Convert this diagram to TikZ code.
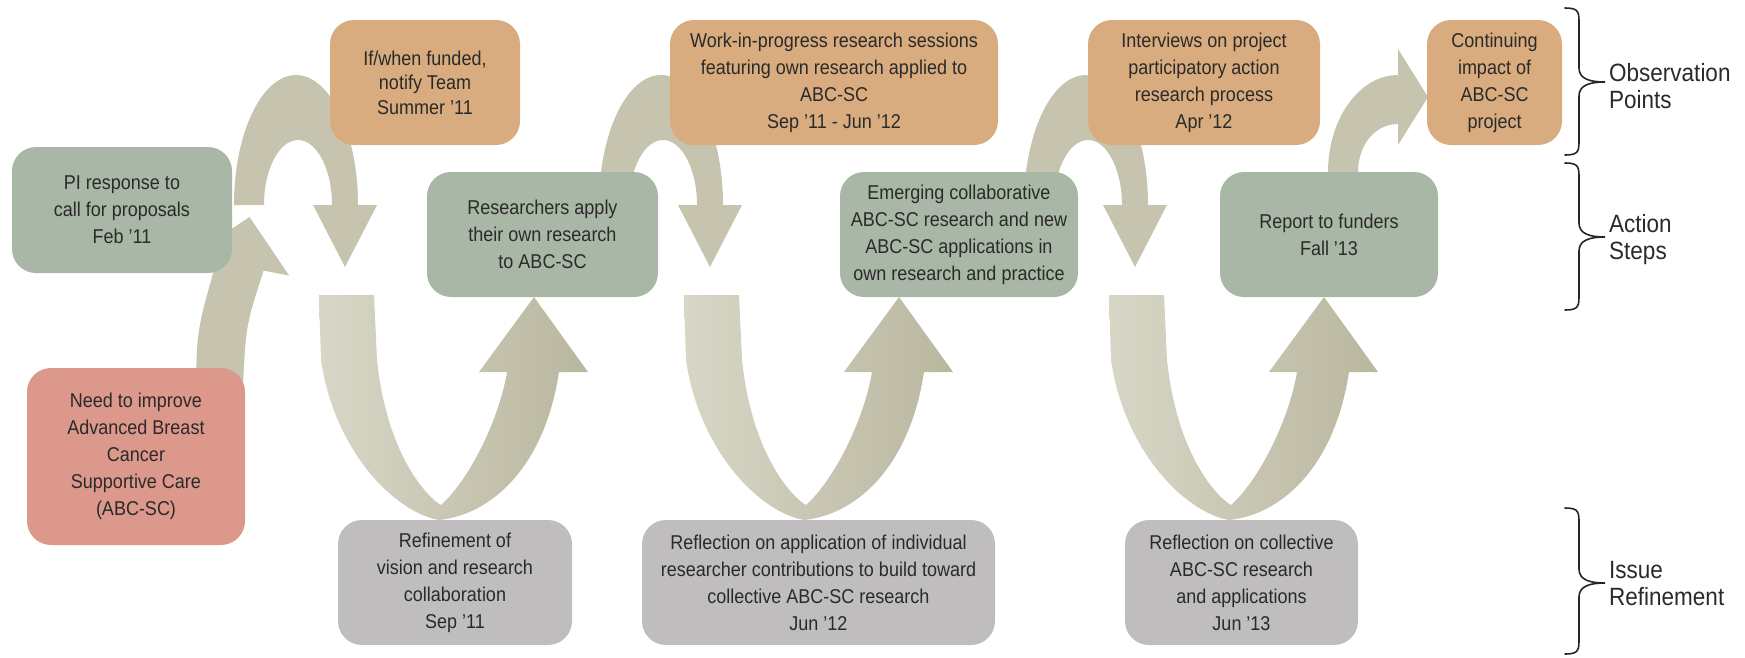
\documentclass[tikz,border=0pt]{standalone}
\usepackage{fontspec}
\setmainfont{Liberation Sans}[FakeStretch=0.9]
\newcommand\boxfont{\fontsize{20}{27}\selectfont}
\newcommand\tightfont{\fontsize{20}{24.5}\selectfont}
\newcommand\labfont{\fontsize{25}{27}\selectfont}
\definecolor{obsc}{HTML}{D8AC7E}
\definecolor{actc}{HTML}{A9B8A6}
\definecolor{needc}{HTML}{DC988A}
\definecolor{refc}{HTML}{C0BDBE}
\definecolor{arrc}{HTML}{C6C4AE}
\definecolor{ulight}{HTML}{D8D6C6}
\definecolor{udark}{HTML}{B9B79F}
\definecolor{txtc}{HTML}{2A2A2A}
\tikzset{
  bx/.style={rounded corners=24pt, inner sep=0pt, align=center, font=\boxfont, text=txtc},
  obs/.style={bx, fill=obsc},
  act/.style={bx, fill=actc},
  need/.style={bx, fill=needc},
  refl/.style={bx, fill=refc},
  arrsh/.style={fill=arrc},
  ushape/.style={left color=ulight, right color=udark},
  brc/.style={draw=black!85, line width=1.6pt, line cap=round},
  lab/.style={anchor=west, align=left, font=\labfont, text=txtc, inner sep=0pt}
}
% one action-research cycle: arch over the observation box, then U down to reflection and up
\newcommand\parcycle[1]{%
  \begin{scope}[shift={(#1,0)}]
    \fill[arrsh] (-62,205) .. controls (-62,133.2) and (-34.2,75) .. (0,75)
      .. controls (34.2,75) and (62,133.2) .. (62,205) -- (81,205) -- (49,267) -- (17,205) -- (36,205)
      .. controls (36,169.1) and (20.8,140) .. (2,140)
      .. controls (-16.8,140) and (-32,169.1) .. (-32,205) -- cycle;
    \begin{scope}[shift={(23,0)}]
      \shade[ushape] (0,295) -- (2,360) .. controls (15,450) and (75,512) .. (120,520)
        .. controls (170,515) and (225,470) .. (240,372) -- (269,372) -- (215,297) -- (160,372) -- (188,372)
        .. controls (180,420) and (150,480) .. (122,505)
        .. controls (108,497) and (68,455) .. (58,360) -- (55,295) -- cycle;
    \end{scope}
  \end{scope}}
\newcommand\curlybr[3]{%
  \draw[brc] (1565,#1) .. controls (1579,#1) and (1579,{#1+4}) .. (1579,{#1+16})
    -- (1579,{#3-14}) .. controls (1579,{#3-3}) and (1590,#3) .. (1605,#3)
    .. controls (1590,#3) and (1579,{#3+3}) .. (1579,{#3+14})
    -- (1579,{#2-16}) .. controls (1579,{#2-4}) and (1579,#2) .. (1565,#2);}
\begin{document}
\begin{tikzpicture}[x=1pt, y=-1pt]
\useasboundingbox (0,0) rectangle (1745,657);
% arrows (behind boxes)
\fill[arrsh] (196,385) .. controls (197,330) .. (216.4,261.4) -- (190.9,256.5) -- (249.5,216.9) -- (289.1,275.5)
  -- (263.6,270.6) .. controls (246,325) .. (243,385) -- cycle;
\parcycle{296}
\parcycle{661}
\parcycle{1086}
\fill[arrsh] (1328,185) -- (1328,172) .. controls (1328,118) and (1360,75) .. (1398,75)
  -- (1398,49) -- (1428,97) -- (1398,145) -- (1398,124)
  .. controls (1375,124) and (1358,145) .. (1358,172) -- (1358,185) -- cycle;
% observation points
\node[obs, font=\tightfont, minimum width=190pt, minimum height=125pt] (nif) at (425,82.5) {If/when funded,\\notify Team\\Summer '11};
\node[obs, minimum width=328pt, minimum height=125pt] (nwip) at (834,82.5) {Work-in-progress research sessions\\featuring own research applied to\\ABC-SC\\Sep '11 - Jun '12};
\node[obs, minimum width=232pt, minimum height=125pt] (nint) at (1204,82.5) {Interviews on project\\participatory action\\research process\\Apr '12};
\node[obs, minimum width=135pt, minimum height=125pt] (ncont) at (1494.5,82.5) {Continuing\\impact of\\ABC-SC\\project};
% action steps
\node[act, minimum width=220pt, minimum height=126pt] (npi) at (122,210) {PI response to\\call for proposals\\Feb '11};
\node[act, minimum width=231pt, minimum height=125pt] (nres) at (542.5,234.5) {Researchers apply\\their own research\\to ABC-SC};
\node[act, minimum width=238pt, minimum height=125pt] (nemg) at (959,234.5) {Emerging collaborative\\ABC-SC research and new\\ABC-SC applications in\\own research and practice};
\node[act, minimum width=218pt, minimum height=125pt] (nrep) at (1329,234.5) {Report to funders\\Fall '13};
% need
\node[need, minimum width=218pt, minimum height=177pt] (nneed) at (136,456.5) {Need to improve\\Advanced Breast\\Cancer\\Supportive Care\\(ABC-SC)};
% issue refinement
\node[refl, minimum width=234pt, minimum height=125pt] (nref1) at (455,582.5) {Refinement of\\vision and research\\collaboration\\Sep '11};
\node[refl, minimum width=353pt, minimum height=125pt] (nref2) at (818.5,582.5) {Reflection on application of individual\\researcher contributions to build toward\\collective ABC-SC research\\Jun '12};
\node[refl, minimum width=233pt, minimum height=125pt] (nref3) at (1241.5,582.5) {Reflection on collective\\ABC-SC research\\and applications\\Jun '13};
% braces and labels
\curlybr{8}{155}{82}
\curlybr{163}{310}{237}
\curlybr{508}{654}{583}
\node[lab] (lobs) at (1609,86) {Observation\\Points};
\node[lab] (lact) at (1609,240) {Action\\Steps};
\node[lab] (liss) at (1609,584) {Issue\\Refinement};
\end{tikzpicture}
\end{document}
